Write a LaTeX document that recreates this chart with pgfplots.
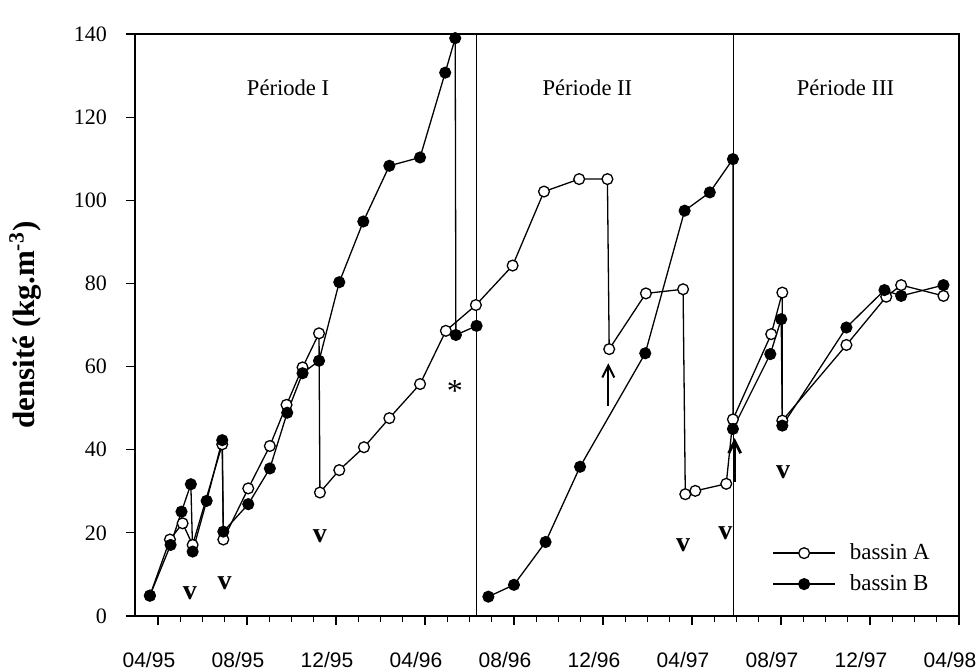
\documentclass[border=0pt]{standalone}
\usepackage{fontspec}
\setmainfont{Liberation Serif}
\newfontfamily\sansf{Liberation Sans}
\usepackage{pgfplots}
\pgfplotsset{compat=1.18}
\usetikzlibrary{arrows.meta}

\begin{document}
\begin{tikzpicture}
\begin{axis}[
  name=ax,
  scale only axis,
  width=412pt, height=291pt,
  xmin=-1.03, xmax=36, ymin=0, ymax=140,
  axis line style={line width=0.6pt},
  tick align=outside,
  tick pos=left,
  xtick={0,4,...,36},
  xticklabels={04/95,08/95,12/95,04/96,08/96,12/96,04/97,08/97,12/97,04/98},
  minor x tick num=3,
  ytick={0,20,...,140},
  major tick length=4.5pt,
  minor tick length=3pt,
  tick style={black, line width=0.6pt},
  xticklabel style={font=\sansf\fontsize{10.5}{12}\selectfont, yshift=-10pt, xshift=-4.5pt},
  yticklabel style={font=\fontsize{11}{13}\selectfont, xshift=-6pt},
  /pgf/number format/assume math mode=true,
  ylabel={\textbf{densité (kg.m\textsuperscript{-3})}},
  ylabel style={font=\fontsize{15.5}{18}\selectfont, at={(axis description cs:-0.1056,0.5)}, anchor=south},
  legend style={draw=none, fill=none, at={(axis cs:27.6,11.4)}, anchor=west,
    font=\fontsize{11.5}{13}\selectfont, inner sep=0pt, row sep=2pt},
  legend cell align=left,
  legend image code/.code={\draw[mark repeat=2,mark phase=2] plot coordinates {(0pt,0pt) (15.5pt,0pt) (31pt,0pt)};},
]
% period dividers
\addplot[black, line width=0.6pt, forget plot] coordinates {(14.3,0) (14.3,140)};
\addplot[black, line width=0.6pt, forget plot] coordinates {(25.85,0) (25.85,140)};

% bassin A
\addplot[black, line width=0.65pt, mark=*, mark size=2.7pt, mark options={fill=white, solid}] coordinates {
(-0.36,4.9) (0.54,18.4) (1.11,22.3) (1.56,17.1) (2.89,41.3) (2.94,18.4)
(4.06,30.7) (5.03,40.9) (5.78,50.8) (6.5,59.8) (7.24,68.0) (7.28,29.7)
(8.15,35.1) (9.26,40.6) (10.4,47.6) (11.78,55.8) (12.94,68.6) (14.29,74.8)
(15.94,84.3) (17.35,102.1) (18.93,105.1) (20.2,105.1) (20.28,64.2)
(21.93,77.6) (23.6,78.6) (23.7,29.3) (24.15,30.1) (25.54,31.8) (25.84,47.3)
(27.56,67.8) (28.06,77.8) (28.06,47.0) (30.94,65.2) (32.73,76.8) (33.4,79.6) (35.3,77.0)
};
\addlegendentry{\hspace{5pt}bassin A}

% bassin B
\addplot[black, line width=0.65pt, mark=*, mark size=2.7pt, mark options={fill=black, solid}] coordinates {
(-0.36,4.9) (0.57,17.1) (1.06,25.1) (1.48,31.7) (1.56,15.5) (2.19,27.7) (2.89,42.3) (2.94,20.3)
(4.06,26.9) (5.03,35.5) (5.81,48.9) (6.5,58.4) (7.24,61.4) (8.15,80.3) (9.23,94.9)
(10.4,108.3) (11.78,110.3) (12.91,130.7) (13.36,139.0) (13.39,67.6) (14.32,69.8)
};
\addlegendentry{\hspace{5pt}bassin B}
\addplot[black, line width=0.65pt, mark=*, mark size=2.7pt, mark options={fill=black, solid}, forget plot] coordinates {
(14.85,4.65) (16.0,7.5) (17.42,17.8) (18.97,35.9) (21.9,63.2) (23.67,97.5) (24.8,101.9)
(25.84,109.9) (25.84,45.0) (27.52,63.0) (28.01,71.4) (28.06,45.8) (30.94,69.4)
(32.65,78.4) (33.4,77.0) (35.3,79.6)
};

% arrows
\addplot[black, line width=1pt, -{Straight Barb[length=6pt,width=6pt]}, forget plot] coordinates {(20.24,50.6) (20.24,60.8)};
\addplot[black, line width=1.4pt, -{Straight Barb[length=6pt,width=6pt]}, forget plot] coordinates {(25.92,32.3) (25.92,42.8)};

% annotations
\node[font=\fontsize{11.3}{13}\selectfont] at (axis cs:5.85,127) {Période I};
\node[font=\fontsize{11.3}{13}\selectfont] at (axis cs:19.3,127) {Période II};
\node[font=\fontsize{11.3}{13}\selectfont] at (axis cs:30.9,127) {Période III};

\node[font=\bfseries\fontsize{14}{16}\selectfont] at (axis cs:1.44,5.5) {v};
\node[font=\bfseries\fontsize{14}{16}\selectfont] at (axis cs:3.0,7.9) {v};
\node[font=\bfseries\fontsize{14}{16}\selectfont] at (axis cs:7.28,19.2) {v};
\node[font=\bfseries\fontsize{14}{16}\selectfont] at (axis cs:23.6,17) {v};
\node[font=\bfseries\fontsize{14}{16}\selectfont] at (axis cs:25.5,20) {v};
\node[font=\bfseries\fontsize{14}{16}\selectfont] at (axis cs:28.1,34.7) {v};
\node[font=\fontsize{16}{18}\selectfont, yshift=-2pt] at (axis cs:13.35,55) {*};
\end{axis}
\pgfresetboundingbox
\useasboundingbox ([shift={(-67.5pt,-27.5pt)}]ax.south west) rectangle ([shift={(9.5pt,17pt)}]ax.north east);
\end{tikzpicture}
\end{document}
